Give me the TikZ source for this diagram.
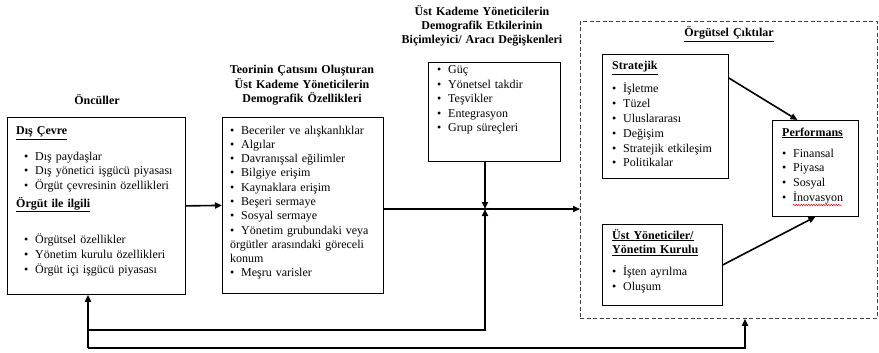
\documentclass[tikz,border=0pt]{standalone}
\usepackage{fontspec}
\setmainfont{Liberation Serif}
\usepackage{tikz}
\usetikzlibrary{arrows.meta,positioning,calc,decorations.pathmorphing}
\newcommand{\boxhead}[1]{\underline{\textbf{#1}}}
\newcommand{\itm}{\makebox[11pt][l]{\textbullet}}

\begin{document}
\begin{tikzpicture}[x=1pt, y=-1pt,
  box/.style={draw, line width=0.8pt, inner sep=0pt, anchor=north west},
  txt/.style={anchor=base west, inner sep=0pt, align=left,
              font=\fontsize{12}{14.8}\selectfont},
  ttl/.style={anchor=base, inner sep=0pt, align=center, text width=190pt,
              font=\fontsize{12}{14.4}\selectfont\bfseries},
  conn/.style={line width=1.6pt, -{Triangle[length=7pt,width=6pt]}},
]
\useasboundingbox (0,0) rectangle (879,353);

% boxes
\node[box, dashed, dash pattern=on 4pt off 2.5pt, draw=black!75,
      minimum width=297pt, minimum height=297pt] (out) at (580,21) {};
\node[box, minimum width=178pt, minimum height=177pt] (ante)  at (7,117)   {};
\node[box, minimum width=161pt, minimum height=176pt] (core)  at (222,117) {};
\node[box, minimum width=132pt, minimum height=99pt]  (mod)   at (428,62)  {};
\node[box, minimum width=126pt, minimum height=124pt] (strat) at (602,54)  {};
\node[box, minimum width=120pt, minimum height=81pt]  (board) at (602,224) {};
\node[box, minimum width=86pt,  minimum height=96pt]  (perf)  at (772,120) {};

% titles
\node[ttl] (anteT) at (97,104)  {Öncüller};
\node[ttl] (coreT) at (302,74)  {Teorinin Çatısını Oluşturan\\Üst Kademe Yöneticilerin\\Demografik Özellikleri};
\node[ttl, font=\fontsize{12}{13.8}\selectfont\bfseries] (modT) at (482,16)
  {Üst Kademe Yöneticilerin\\Demografik Etkilerinin\\Biçimleyici/ Aracı Değişkenleri};
\node[ttl] (outT) at (729,37) {\boxhead{Örgütsel Çıktılar}};

% box contents
\node[txt, text width=165pt] (anteL) at (16,135) {%
  \boxhead{Dış Çevre}\\[10.2pt]
  \hspace*{8pt}\itm Dış paydaşlar\\
  \hspace*{8pt}\itm Dış yönetici işgücü piyasası\\
  \hspace*{8pt}\itm Örgüt çevresinin özellikleri\\[3.2pt]
  \boxhead{Örgüt ile ilgili}\\[21.2pt]
  \hspace*{8pt}\itm Örgütsel özellikler\\
  \hspace*{8pt}\itm Yönetim kurulu özellikleri\\
  \hspace*{8pt}\itm Örgüt içi işgücü piyasası};
\node[txt, text width=150pt, font=\fontsize{12}{14.3}\selectfont] (coreL) at (230,134) {%
  \itm Beceriler ve alışkanlıklar\\
  \itm Algılar\\
  \itm Davranışsal eğilimler\\
  \itm Bilgiye erişim\\
  \itm Kaynaklara erişim\\
  \itm Beşeri sermaye\\
  \itm Sosyal sermaye\\
  \itm Yönetim grubundaki veya\\
  örgütler arasındaki göreceli\\
  konum\\
  \itm Meşru varisler};
\node[txt, text width=120pt, font=\fontsize{12}{14.5}\selectfont] (modL) at (437,74) {%
  \itm Güç\\
  \itm Yönetsel takdir\\
  \itm Teşvikler\\
  \itm Entegrasyon\\
  \itm Grup süreçleri};
\node[txt, text width=115pt] (stratL) at (612,70) {%
  \boxhead{Stratejik}\\[8.2pt]
  \itm İşletme\\
  \itm Tüzel\\
  \itm Uluslararası\\
  \itm Değişim\\
  \itm Stratejik etkileşim\\
  \itm Politikalar};
\node[txt, text width=110pt] (boardL) at (612,239) {%
  \boxhead{Üst Yöneticiler/}\\
  \boxhead{Yönetim Kurulu}\\[7.2pt]
  \itm İşten ayrılma\\
  \itm Oluşum};
\node[txt, text width=75pt] (perfL) at (782,136) {%
  \boxhead{Performans}\\[6.2pt]
  \itm Finansal\\
  \itm Piyasa\\
  \itm Sosyal\\
  \itm İnovasyon};
\draw[red, line width=0.5pt, decorate, decoration={snake, amplitude=0.7pt, segment length=2.5pt}]
  (793,205) -- (842,205);

% connectors
\coordinate (junc) at (485,209);
\coordinate (fbA) at (88,330);
\coordinate (fbB) at (88,348);
\draw[conn] (ante.east) -- (core.west);
\draw[conn] (core.east |- junc) -- (out.west |- junc);
\draw[conn] (mod.south -| junc) -- (junc);
\draw[conn] (fbA) -| (junc);
\draw[conn] (fbB) -- (ante.south -| fbB);
\draw[conn] (fbB) -| (out.south -| 745,0);
\draw[conn] ($(strat.north east)+(0,24)$) -- ($(perf.north)+(-18,0)$);
\draw[conn] (board.east) -- (perf.south);
\end{tikzpicture}
\end{document}
